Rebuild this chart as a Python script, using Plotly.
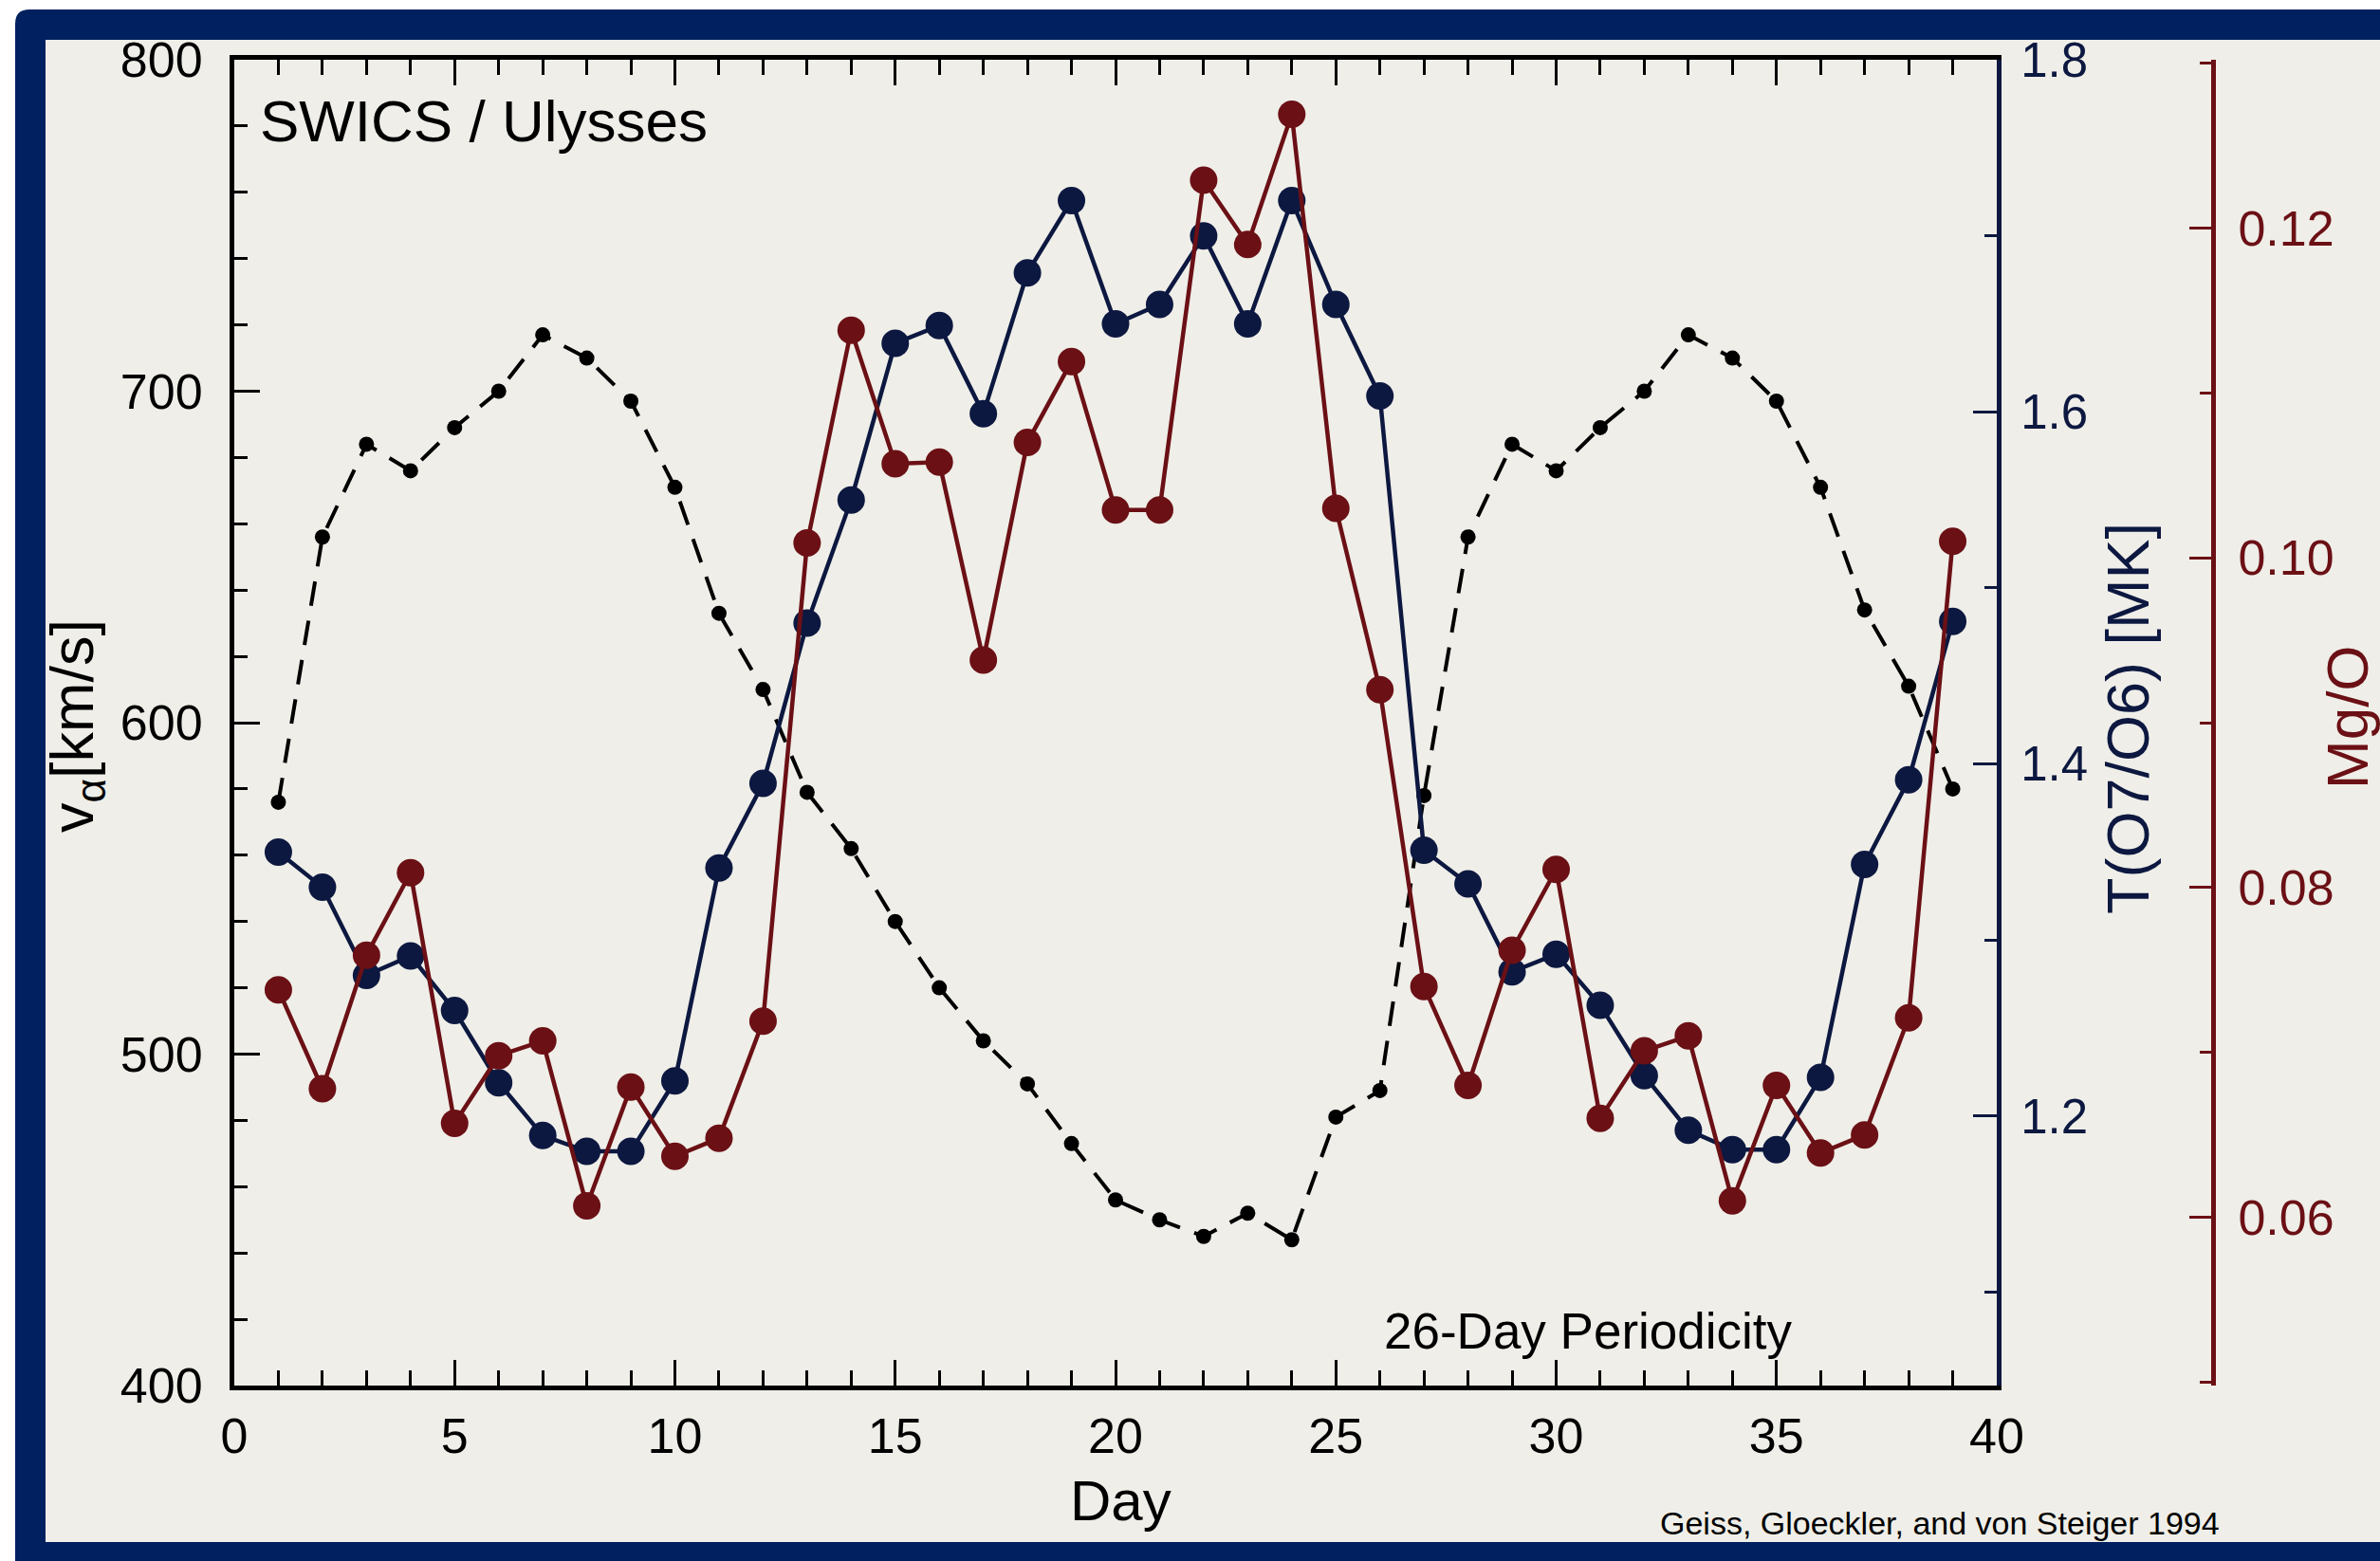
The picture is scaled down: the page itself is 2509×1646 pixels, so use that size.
import plotly.graph_objects as go

# ---------------- data ----------------
days = list(range(1, 40))

v_alpha = [576, 656, 684, 676, 689, 700, 717, 710, 697, 671, 633, 610, 579,
           562, 540, 520, 504, 491, 473, 456, 450, 445, 452, 444, 481, 489,
           578, 656, 684, 676, 689, 700, 717, 710, 697, 671, 634, 611, 580]

t_o7o6 = [1.350, 1.330, 1.280, 1.291, 1.260, 1.219, 1.189, 1.180, 1.180, 1.220,
          1.341, 1.389, 1.480, 1.550, 1.639, 1.649, 1.599, 1.679, 1.720, 1.650,
          1.661, 1.700, 1.650, 1.720, 1.661, 1.609, 1.351, 1.332, 1.282, 1.292,
          1.263, 1.223, 1.192, 1.181, 1.181, 1.222, 1.343, 1.391, 1.481]

mg_o = [0.0738, 0.0678, 0.0759, 0.0809, 0.0657, 0.0698, 0.0707, 0.0607, 0.0679,
        0.0637, 0.0648, 0.0719, 0.1009, 0.1138, 0.1057, 0.1058, 0.0938, 0.1070,
        0.1119, 0.1029, 0.1029, 0.1229, 0.1190, 0.1269, 0.1030, 0.0920, 0.0740,
        0.0680, 0.0762, 0.0811, 0.0660, 0.0701, 0.0710, 0.0610, 0.0680, 0.0639,
        0.0650, 0.0721, 0.1010]

x_ticks = [0, 5, 10, 15, 20, 25, 30, 35, 40]
v_ticks = [400, 500, 600, 700, 800]
t_ticks = [1.2, 1.4, 1.6, 1.8]
mg_ticks = [0.06, 0.08, 0.10, 0.12]

# ---------------- styling ----------------
FIG_W, FIG_H = 2509, 1646
L, R_PX, T_PX, B_PX = 247, 2333, 63, 1461
W, H = R_PX - L, B_PX - T_PX
X_END = 2105

NAVY_FRAME = "#00205f"
BEIGE = "#efeee8"
BLUE = "#0c1840"
RED = "#6b1015"
FONT = "Liberation Sans, Arial, Helvetica, sans-serif"


def px(x):
    return (x - L) / W


def py(y):
    return (B_PX - y) / H


def rect(x0, y0, x1, y1, color):
    return dict(type="rect", xref="paper", yref="paper",
                x0=px(x0), x1=px(x1), y0=py(y1), y1=py(y0),
                fillcolor=color, line=dict(width=0), layer="below")


fig = go.Figure()

fig.add_trace(go.Scatter(
    x=days, y=v_alpha, mode="lines+markers", yaxis="y",
    line=dict(color="black", width=4, dash="26px,16px"),
    marker=dict(color="black", size=16), showlegend=False))

fig.add_trace(go.Scatter(
    x=days, y=t_o7o6, mode="lines+markers", yaxis="y2",
    line=dict(color=BLUE, width=4.5),
    marker=dict(color=BLUE, size=29), showlegend=False))

fig.add_trace(go.Scatter(
    x=days, y=mg_o, mode="lines+markers", yaxis="y3",
    line=dict(color=RED, width=4.5),
    marker=dict(color=RED, size=29), showlegend=False))

# frame: navy bands on a beige page, white outside at top-left
r = 15
corner = (f"M {px(16)},{py(10)} L {px(16 + r)},{py(10)} "
          f"Q {px(16)},{py(10)} {px(16)},{py(10 + r)} Z")
shapes = [
    rect(-10, -10, 2540, 10, "white"),
    rect(-10, -10, 16, 1680, "white"),
    rect(16, 10, 2540, 42, NAVY_FRAME),
    rect(16, 10, 48, 1680, NAVY_FRAME),
    rect(16, 1626, 2540, 1680, NAVY_FRAME),
    dict(type="path", path=corner, xref="paper", yref="paper",
         fillcolor="white", line=dict(width=0), layer="below"),
]

annotations = [
    dict(text="SWICS / Ulysses", x=px(272), y=py(128), xanchor="left", yanchor="middle",
         font=dict(size=62, color="black", family=FONT)),
    dict(text="26-Day Periodicity", x=px(1674), y=py(1403), xanchor="center", yanchor="middle",
         font=dict(size=53, color="black", family=FONT)),
    dict(text="Geiss, Gloeckler, and von Steiger 1994", x=px(2045), y=py(1606),
         xanchor="center", yanchor="middle",
         font=dict(size=34, color="black", family=FONT)),
    dict(text="Day", x=px(1181), y=py(1582), xanchor="center", yanchor="middle",
         font=dict(size=60, color="black", family=FONT)),
    dict(text="v<sub>α</sub>[km/s]", x=px(80), y=py(766), xanchor="center", yanchor="middle",
         textangle=-90, font=dict(size=63, color="black", family=FONT)),
    dict(text="T(O7/O6) [MK]", x=px(2243), y=py(758), xanchor="center", yanchor="middle",
         textangle=-90, font=dict(size=63, color=BLUE, family=FONT)),
    dict(text="Mg/O", x=px(2474), y=py(756), xanchor="center", yanchor="middle",
         textangle=-90, font=dict(size=62, color=RED, family=FONT)),
]
for a in annotations:
    a.update(xref="paper", yref="paper", showarrow=False)

fig.update_layout(
    width=FIG_W, height=FIG_H,
    margin=dict(l=L, r=FIG_W - R_PX, t=T_PX, b=FIG_H - B_PX, pad=0),
    paper_bgcolor=BEIGE, plot_bgcolor="rgba(0,0,0,0)",
    font=dict(family=FONT),
    shapes=shapes, annotations=annotations,
    xaxis=dict(
        domain=[0, (X_END - L) / W], range=[0, 40],
        tickvals=x_ticks, ticktext=[str(v) for v in x_ticks],
        ticks="inside", ticklen=27, tickwidth=3, tickcolor="black",
        minor=dict(ticks="inside", dtick=1, tick0=0, ticklen=16, tickwidth=3, tickcolor="black"),
        showline=True, linecolor="black", linewidth=5, mirror="ticks",
        showgrid=False, zeroline=False,
        tickfont=dict(size=52, color="black", family=FONT),
        ticklabelstandoff=4,
    ),
    yaxis=dict(
        range=[400, 800], tickvals=v_ticks, ticktext=[str(v) for v in v_ticks],
        side="left", ticks="inside", ticklen=27, tickwidth=3, tickcolor="black",
        minor=dict(ticks="inside", dtick=20, tick0=400, ticklen=14, tickwidth=3, tickcolor="black"),
        showline=True, linecolor="black", linewidth=5, mirror=False,
        showgrid=False, zeroline=False,
        tickfont=dict(size=52, color="black", family=FONT),
        ticklabelstandoff=18,
    ),
    yaxis2=dict(
        overlaying="y", side="right", anchor="x",
        range=[1.047, 1.8], tickvals=t_ticks, ticktext=[f"{v:.1f}" for v in t_ticks],
        ticks="inside", ticklen=25, tickwidth=3, tickcolor=BLUE,
        minor=dict(ticks="inside", dtick=0.1, tick0=1.0, ticklen=13, tickwidth=3, tickcolor=BLUE),
        showline=True, linecolor=BLUE, linewidth=5,
        showgrid=False, zeroline=False,
        tickfont=dict(size=51, color=BLUE, family=FONT),
        ticklabelstandoff=10,
    ),
    yaxis3=dict(
        overlaying="y", side="right", anchor="free", position=1.0,
        range=[0.0498, 0.1302], tickvals=mg_ticks, ticktext=[f"{v:.2f}" for v in mg_ticks],
        ticks="inside", ticklen=23, tickwidth=3, tickcolor=RED,
        minor=dict(ticks="inside", dtick=0.01, tick0=0.05, ticklen=12, tickwidth=3, tickcolor=RED),
        showline=True, linecolor=RED, linewidth=5,
        showgrid=False, zeroline=False,
        tickfont=dict(size=52, color=RED, family=FONT),
        ticklabelstandoff=13,
    ),
)

fig.write_html("out.html")
